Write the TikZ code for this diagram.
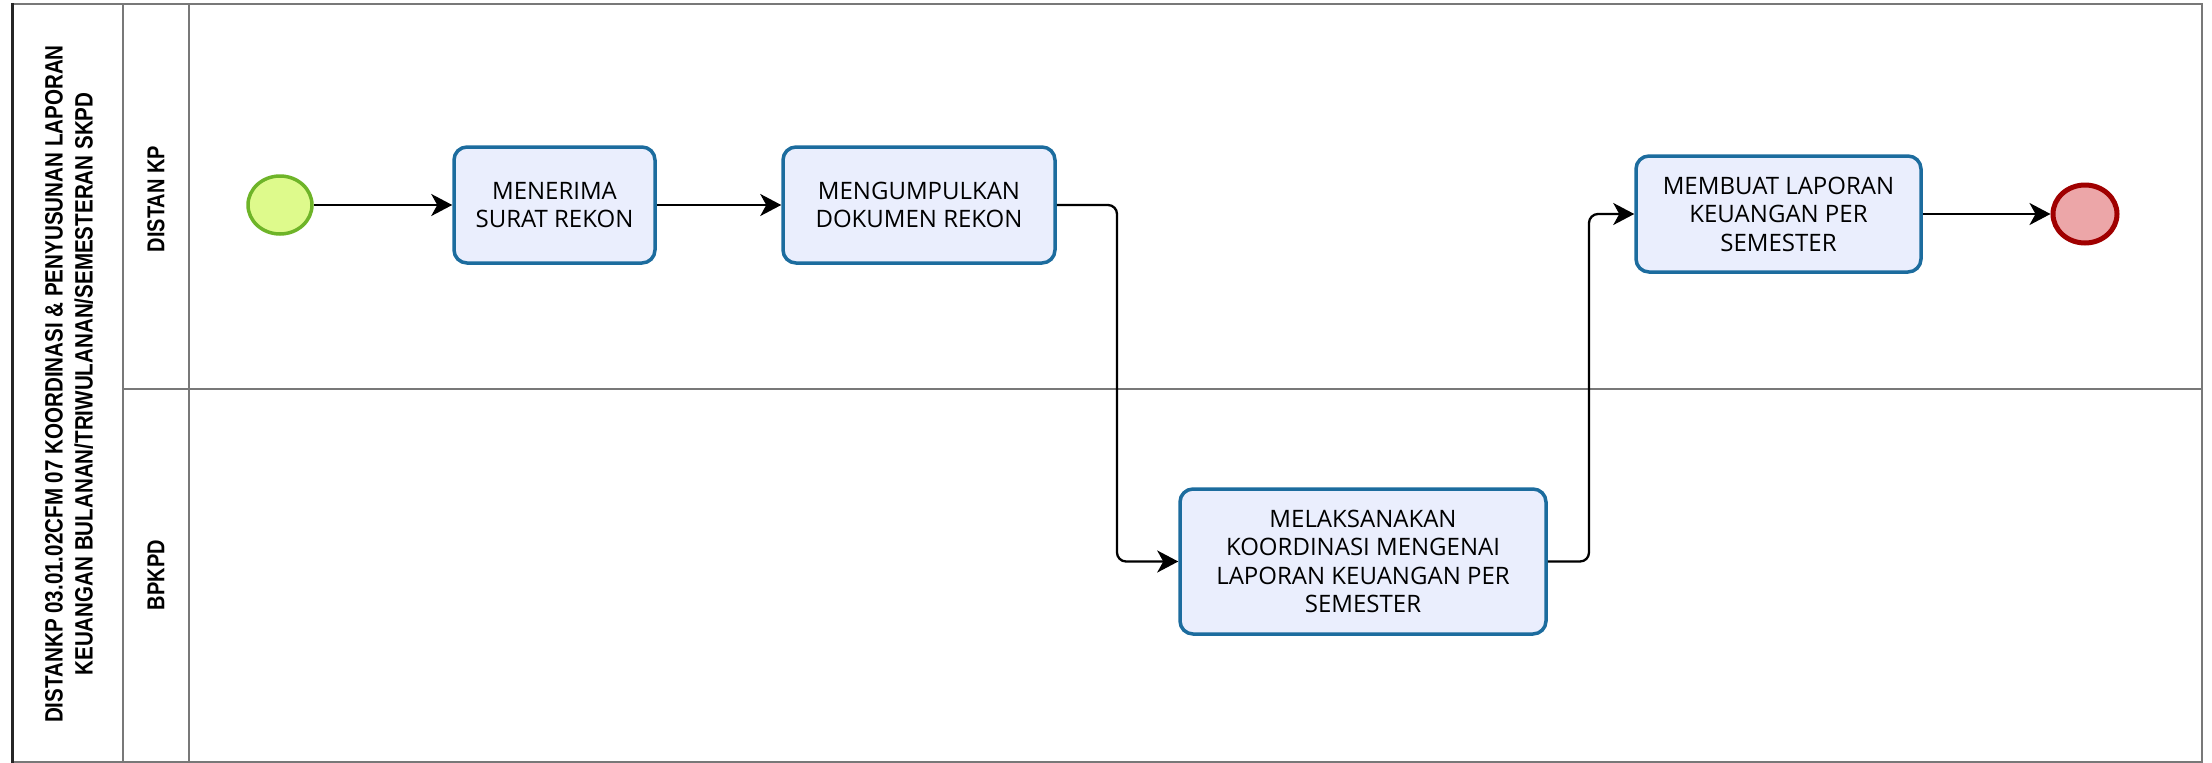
\documentclass[tikz,border=0pt]{standalone}
\usepackage{fontspec}
\usepackage{graphicx}
\setmainfont{Open Sans}
\newfontfamily\condfont{Liberation Sans}
\usetikzlibrary{arrows.meta,shapes.geometric}
\definecolor{taskfill}{RGB}{234,238,253}
\definecolor{taskdraw}{RGB}{28,108,158}
\definecolor{startfill}{RGB}{222,250,140}
\definecolor{startdraw}{RGB}{110,180,40}
\definecolor{endfill}{RGB}{236,166,168}
\definecolor{enddraw}{RGB}{160,0,0}
\definecolor{poolline}{RGB}{120,120,120}
\tikzset{
  task/.style={draw=taskdraw, fill=taskfill, line width=3.5pt, rounded corners=13pt,
    align=center, inner sep=0pt, font=\fontsize{24}{28.5}\selectfont},
  startev/.style={ellipse, draw=startdraw, fill=startfill, line width=3.5pt,
    minimum width=64pt, minimum height=58pt, inner sep=0pt},
  endev/.style={ellipse, draw=enddraw, fill=endfill, line width=5pt,
    minimum width=64pt, minimum height=58pt, inner sep=0pt},
  flow/.style={draw=black, line width=2.3pt, rounded corners=9pt,
    -{Stealth[length=21pt,width=22pt,inset=6pt]}},
  pool/.style={draw=poolline, line width=2pt},
  lanelabel/.style={rotate=90, inner sep=0pt, font=\condfont\bfseries\fontsize{24.4}{30}\selectfont}
}
\begin{document}
\begin{tikzpicture}[x=1pt,y=-1pt]
\useasboundingbox (0,0) rectangle (2212,763);
% pool frame
\draw[pool] (12,4) -- (2202,4) -- (2202,762) -- (12,762);
\draw[line width=3pt, draw=black!85] (12,3) -- (12,763);
\draw[pool] (123,4) -- (123,762);
\draw[pool] (189,4) -- (189,762);
\draw[pool] (123,389) -- (2202,389);
% title and lanes
\node[lanelabel, align=center, font=\condfont\bfseries\fontsize{25.1}{30}\selectfont] (title) at (69,384)
  {\scalebox{0.82}[1]{DISTANKP 03.01.02CFM 07 KOORDINASI \& PENYUSUNAN LAPORAN}\\
   \scalebox{0.82}[1]{KEUANGAN BULANAN/TRIWULANAN/SEMESTERAN SKPD}};
\node[lanelabel] (lane1) at (156,199) {\scalebox{0.82}[1]{DISTAN KP}};
\node[lanelabel] (lane2) at (156,575) {\scalebox{0.82}[1]{BPKPD}};
% events and tasks
\node[startev] (start) at (280,205) {};
\node[task, minimum width=201pt, minimum height=116pt] (t1) at (554.5,205) {MENERIMA\\SURAT REKON};
\node[task, minimum width=272pt, minimum height=116pt] (t2) at (919,205) {MENGUMPULKAN\\DOKUMEN REKON};
\node[task, minimum width=285pt, minimum height=116pt] (t3) at (1778.5,214) {MEMBUAT LAPORAN\\KEUANGAN PER\\SEMESTER};
\node[endev] (end) at (2085,214) {};
\node[task, minimum width=366pt, minimum height=145pt] (t4) at (1363,561.5) {MELAKSANAKAN\\KOORDINASI MENGENAI\\LAPORAN KEUANGAN PER\\SEMESTER};
% bend points
\coordinate (b24) at (1117,0);
\coordinate (b43) at (1589,0);
% flows
\draw[flow] (start) -- (t1);
\draw[flow] (t1) -- (t2);
\draw[flow] (t2.east) -- (t2.east -| b24) |- (t4.west);
\draw[flow] (t4.east) -- (t4.east -| b43) |- (t3.west);
\draw[flow] (t3) -- (end);
\end{tikzpicture}
\end{document}
